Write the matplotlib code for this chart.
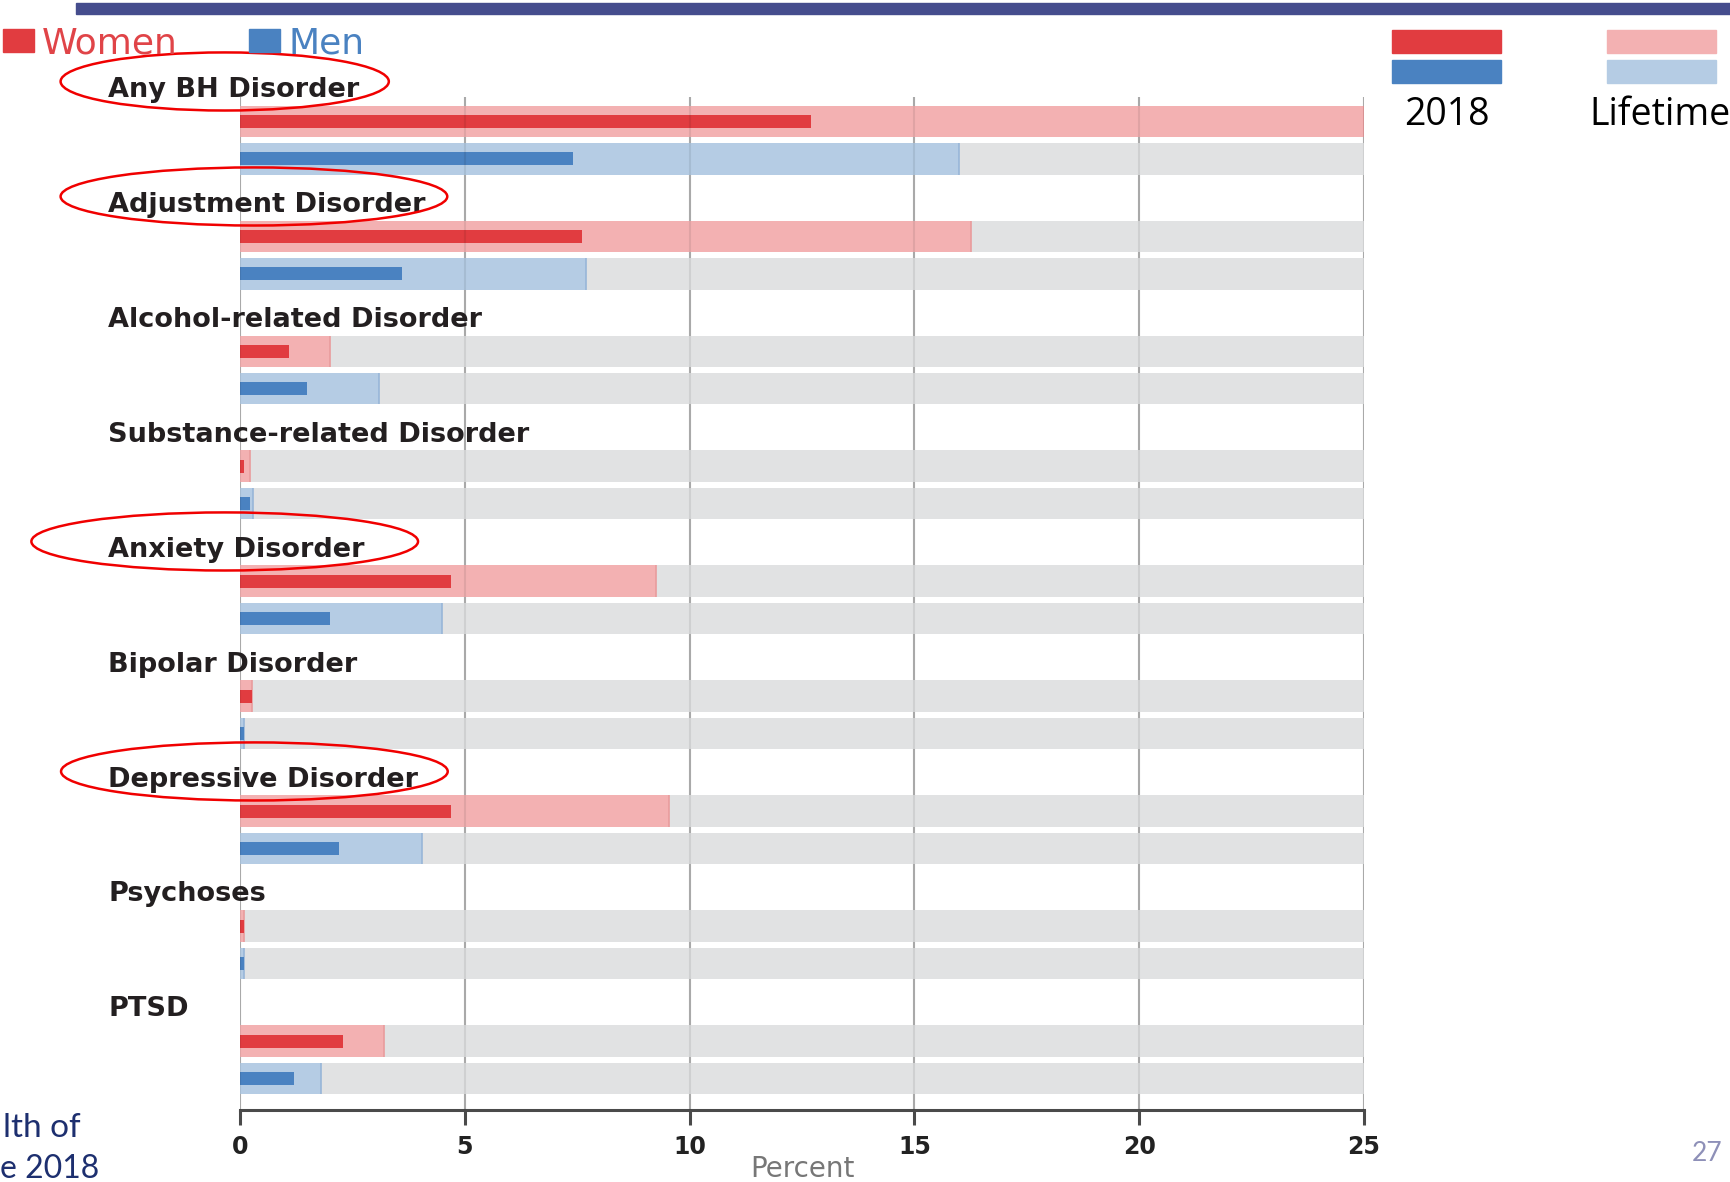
import matplotlib.pyplot as plt
from matplotlib.patches import Ellipse, Rectangle
import numpy as np

# data (percent)
categories = [
    "Any BH Disorder",
    "Adjustment Disorder",
    "Alcohol-related Disorder",
    "Substance-related Disorder",
    "Anxiety Disorder",
    "Bipolar Disorder",
    "Depressive Disorder",
    "Psychoses",
    "PTSD",
]
women_2018 = [12.7, 7.6, 1.1, 0.1, 4.7, 0.26, 4.7, 0.1, 2.3]
women_lifetime = [25.0, 16.25, 2.0, 0.22, 9.25, 0.26, 9.55, 0.1, 3.2]
men_2018 = [7.4, 3.6, 1.5, 0.22, 2.0, 0.1, 2.2, 0.1, 1.2]
men_lifetime = [16.0, 7.7, 3.1, 0.3, 4.5, 0.08, 4.05, 0.1, 1.8]
xticks = [0, 5, 10, 15, 20, 25]

# circled categories: (index, x centre, width)
circled = [(0, -0.34, 7.3), (1, 0.31, 8.6), (4, -0.34, 8.6), (6, 0.32, 8.6)]

W, H = 1730, 1182


class Style:
    women2018 = "#e13c40"
    men2018 = "#4a82c1"
    womenLife = "#f3b1b2"
    menLife = "#b5cce4"
    womenEdge = "#e99c9d"
    menEdge = "#98b6d8"
    background = "#e1e2e3"
    grid = "#b8b8b8"
    axis = "#4a4a4a"
    label = "#231f20"
    womenOffset = 0.296
    menOffset = 0.622
    lifeHeight = 0.274
    yearHeight = 0.11


def fx(px):
    return px / W


def fy(py):
    return 1 - py / H


fig = plt.figure(figsize=(W / 100, H / 100), dpi=100)
ax = fig.add_axes([fx(240), fy(1110), fx(1364) - fx(240), fy(97) - fy(1110)])

y = np.arange(len(categories))
yw = y + Style.womenOffset
ym = y + Style.menOffset

# grid behind
for t in xticks:
    ax.axvline(t, color=Style.grid, linewidth=1.5, zorder=0)

# gray background rows
ax.barh(yw, 25, height=Style.lifeHeight, color=Style.background, zorder=1)
ax.barh(ym, 25, height=Style.lifeHeight, color=Style.background, zorder=1)

# lifetime bars
ax.barh(yw, women_lifetime, height=Style.lifeHeight, color=Style.womenLife, zorder=2)
ax.barh(ym, men_lifetime, height=Style.lifeHeight, color=Style.menLife, zorder=2)
ax.vlines(women_lifetime, yw - Style.lifeHeight / 2, yw + Style.lifeHeight / 2,
          color=Style.womenEdge, linewidth=1.2, zorder=2.5)
ax.vlines(men_lifetime, ym - Style.lifeHeight / 2, ym + Style.lifeHeight / 2,
          color=Style.menEdge, linewidth=1.2, zorder=2.5)

# 2018 bars
ax.barh(yw, women_2018, height=Style.yearHeight, color=Style.women2018, zorder=3)
ax.barh(ym, men_2018, height=Style.yearHeight, color=Style.men2018, zorder=3)

# faint grid on top
for t in xticks:
    ax.axvline(t, color="black", alpha=0.08, linewidth=1.5, zorder=4)

# category labels
for i, name in enumerate(categories):
    ax.text(-2.935, i + 0.02, name, fontsize=19.5, fontweight="bold", color=Style.label,
            va="center", ha="left", clip_on=False, zorder=5)

# red ellipses
for i, cx, w in circled:
    ax.add_patch(Ellipse((cx, i - 0.05), w, 0.505, fill=False, edgecolor="#f00000",
                         linewidth=1.8, clip_on=False, zorder=6))

ax.set_xlim(0, 25)
ax.set_ylim(8.894, 0.085)
ax.set_yticks([])
ax.set_xticks(xticks)
ax.set_xticklabels([str(t) for t in xticks], fontsize=17, fontweight="bold", color="#222222")
ax.tick_params(axis="x", length=11, width=2.2, color=Style.axis, pad=7)
for s in ["top", "left", "right"]:
    ax.spines[s].set_visible(False)
ax.spines["bottom"].set_color(Style.axis)
ax.spines["bottom"].set_linewidth(2.2)
ax.set_xlabel("Percent", fontsize=20, color="#777777", labelpad=-3)

# top banner
fig.patches.append(Rectangle((fx(76), fy(14)), 1 - fx(76), fy(3) - fy(14),
                             transform=fig.transFigure, color="#454d8d"))

# Women / Men key
fig.patches.append(Rectangle((fx(3), fy(52)), fx(31), fy(29) - fy(52),
                             transform=fig.transFigure, color=Style.women2018))
fig.text(fx(42), fy(43), "Women", fontsize=26, color="#e04448", va="center", ha="left")
fig.patches.append(Rectangle((fx(249), fy(52)), fx(31), fy(29) - fy(52),
                             transform=fig.transFigure, color=Style.men2018))
fig.text(fx(289), fy(43), "Men", fontsize=26, color=Style.men2018, va="center", ha="left")

# 2018 / Lifetime key
for x0, cw, cm in [(1392, Style.women2018, Style.men2018), (1607, Style.womenLife, Style.menLife)]:
    fig.patches.append(Rectangle((fx(x0), fy(53)), fx(109), fy(30) - fy(53),
                                 transform=fig.transFigure, color=cw))
    fig.patches.append(Rectangle((fx(x0), fy(83)), fx(109), fy(60) - fy(83),
                                 transform=fig.transFigure, color=cm))
fig.text(fx(1447), fy(125), "2018", fontsize=27, family="Open Sans", color="black",
         va="baseline", ha="center")
fig.text(fx(1589), fy(125), "Lifetime", fontsize=27, family="Open Sans", color="black",
         va="baseline", ha="left")

# slide leftovers
fig.text(fx(3), fy(1137), "lth of", fontsize=24, family="Lato", color="#1d2f6f",
         va="baseline", ha="left")
fig.text(fx(0), fy(1178), "e 2018", fontsize=23, family="Lato", color="#1d2f6f",
         va="baseline", ha="left")
fig.text(fx(1722), fy(1161), "27", fontsize=19, family="Lato", color="#8e90b8",
         va="baseline", ha="right")

fig.savefig("out.png", dpi=100)
